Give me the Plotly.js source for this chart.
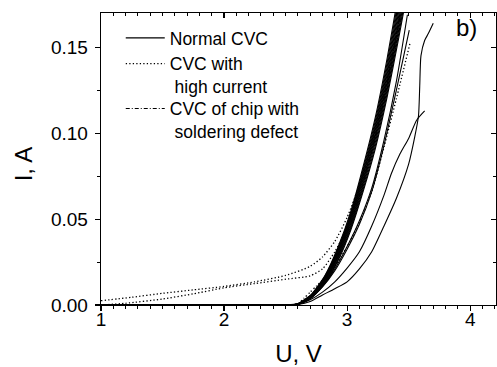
<!DOCTYPE html>
<html>
<head>
<meta charset="utf-8">
<script src="https://cdn.plot.ly/plotly-3.0.1.min.js"></script>
<style>html,body{margin:0;padding:0;background:#fff;}#chart{width:497px;height:367px;}</style>
</head>
<body>
<div id="chart"></div>
<script>
// ---- data ----
const legendNames = ["Normal CVC", "CVC with<br>\u00a0high current", "CVC of chip with<br>\u00a0soldering defect"];

// common voltage grid for the bunch of normal curves (U, V)
const uBunch = [1.0, 2.5, 2.6, 2.71, 2.82, 2.925, 3.03, 3.13, 3.23, 3.325, 3.42, 3.52];
// current (I, A) for each normal curve in the bunch
const iNormal1  = [0, 0, 0.0008, 0.0062, 0.0172, 0.0335, 0.0545, 0.0805, 0.1095, 0.1435, 0.1825, 0.225];
const iNormal2  = [0, 0, 0.0007, 0.0060, 0.0168, 0.0328, 0.0535, 0.0790, 0.1075, 0.1410, 0.1795, 0.221];
const iNormal3  = [0, 0, 0.0007, 0.0058, 0.0163, 0.0320, 0.0524, 0.0775, 0.1055, 0.1385, 0.1765, 0.218];
const iNormal4  = [0, 0, 0.0006, 0.0056, 0.0159, 0.0313, 0.0514, 0.0760, 0.1038, 0.1362, 0.1738, 0.214];
const iNormal5  = [0, 0, 0.0006, 0.0054, 0.0155, 0.0306, 0.0505, 0.0748, 0.1022, 0.1342, 0.1712, 0.211];
const iNormal6  = [0, 0, 0.0005, 0.0052, 0.0150, 0.0298, 0.0494, 0.0734, 0.1004, 0.1320, 0.1685, 0.208];
const iNormal7  = [0, 0, 0.0005, 0.0050, 0.0146, 0.0290, 0.0483, 0.0720, 0.0986, 0.1298, 0.1660, 0.205];
const iNormal8  = [0, 0, 0.0004, 0.0048, 0.0141, 0.0282, 0.0472, 0.0705, 0.0968, 0.1275, 0.1632, 0.202];
const iNormal9  = [0, 0, 0.0004, 0.0046, 0.0136, 0.0274, 0.0460, 0.0690, 0.0950, 0.1252, 0.1606, 0.199];
const iNormal10 = [0, 0, 0.0004, 0.0044, 0.0130, 0.0265, 0.0448, 0.0674, 0.0930, 0.1230, 0.1580, 0.196];
const iNormal11 = [0, 0, 0.0003, 0.0042, 0.0125, 0.0256, 0.0437, 0.0660, 0.0912, 0.1210, 0.1556, 0.194];

// separate normal curves
const uNormalM = [1.0, 2.5, 2.6, 2.7, 2.8, 2.9, 3.0, 3.1, 3.2, 3.3, 3.4, 3.49];
const iNormalM = [0, 0, 0.0004, 0.0040, 0.0110, 0.0210, 0.0340, 0.0490, 0.0680, 0.0960, 0.1300, 0.169];
const uNormalN = [1.0, 2.5, 2.6, 2.7, 2.8, 2.9, 3.0, 3.1, 3.2, 3.3, 3.4, 3.505];
const iNormalN = [0, 0, 0.0004, 0.0038, 0.0105, 0.0200, 0.0325, 0.0470, 0.0660, 0.0930, 0.1250, 0.160];
const uNormalK = [1.0, 2.5, 2.6, 2.7, 2.8, 2.9, 3.0, 3.1, 3.2, 3.3, 3.4, 3.5, 3.55, 3.58, 3.59, 3.6, 3.63, 3.66, 3.7];
const iNormalK = [0, 0, 0.0003, 0.0020, 0.0058, 0.0095, 0.0135, 0.0210, 0.0310, 0.0460, 0.0620, 0.0820, 0.0980, 0.1100, 0.1270, 0.1450, 0.1540, 0.1580, 0.164];
const uNormalL = [1.0, 2.5, 2.6, 2.7, 2.8, 2.9, 3.0, 3.1, 3.2, 3.3, 3.36, 3.43, 3.5, 3.565, 3.63];
const iNormalL = [0, 0, 0.0003, 0.0030, 0.0075, 0.0135, 0.0215, 0.0310, 0.0460, 0.0640, 0.0766, 0.0880, 0.0970, 0.1076, 0.113];

// high current curves (dotted)
const uHigh1 = [1.0, 1.25, 1.5, 1.75, 2.0, 2.25, 2.5, 2.7, 2.8, 2.9, 3.0, 3.1, 3.2, 3.3, 3.4, 3.45];
const iHigh1 = [0.0025, 0.0045, 0.0068, 0.0088, 0.0108, 0.0135, 0.0172, 0.0225, 0.0280, 0.0370, 0.0510, 0.0700, 0.0940, 0.1230, 0.1570, 0.178];
const uHigh2 = [1.0, 1.2, 1.5, 1.75, 2.0, 2.25, 2.5, 2.7, 2.8, 2.9, 3.0, 3.1, 3.2, 3.3, 3.4, 3.45];
const iHigh2 = [0, 0.0010, 0.0035, 0.0065, 0.0100, 0.0125, 0.0150, 0.0170, 0.0210, 0.0310, 0.0450, 0.0670, 0.0910, 0.1190, 0.1520, 0.171];
const uHigh3 = [2.55, 2.6, 2.65, 2.7, 2.75, 2.8, 2.9, 3.0, 3.1, 3.2, 3.3, 3.4, 3.51];
const iHigh3 = [0, 0.0005, 0.0040, 0.0075, 0.0110, 0.0145, 0.0225, 0.0340, 0.0480, 0.0660, 0.0920, 0.1200, 0.152];

// soldering defect curve (dash-dot)
const uDefect = [1.0, 2.5, 2.6, 2.71, 2.82, 2.925, 3.03, 3.13, 3.23, 3.325, 3.42, 3.52];
const iDefect = [0, 0, 0.0005, 0.0052, 0.0148, 0.0290, 0.0478, 0.0710, 0.0975, 0.1285, 0.1645, 0.204];

// axis ticks and labels
const xTicks = [1, 2, 3, 4];
const yTicks = [0.00, 0.05, 0.10, 0.15];
const yTickText = ["0.00", "0.05", "0.10", "0.15"];
const xTitle = "U, V";
const yTitle = "I, A";
const panelLabel = "b)";

// ---- build traces ----
const FONT = "Arial, 'Liberation Sans', Helvetica, sans-serif";
const solid = {color: "#000", width: 1.1, shape: "spline", smoothing: 0.6};
const dotted = {color: "#000", width: 1.3, dash: "1.3px,2.2px", shape: "spline", smoothing: 0.6};
const dashdot = {color: "#000", width: 1.1, dash: "4px,2px,1px,2px", shape: "spline", smoothing: 0.6};

const traces = [];
const normals = [
  [uBunch, iNormal1], [uBunch, iNormal2], [uBunch, iNormal3], [uBunch, iNormal4],
  [uBunch, iNormal5], [uBunch, iNormal6], [uBunch, iNormal7], [uBunch, iNormal8],
  [uBunch, iNormal9], [uBunch, iNormal10], [uBunch, iNormal11],
  [uNormalM, iNormalM], [uNormalN, iNormalN], [uNormalK, iNormalK], [uNormalL, iNormalL]
];
normals.forEach((p, k) => traces.push({
  x: p[0], y: p[1], type: "scatter", mode: "lines", line: solid,
  name: legendNames[0], legendgroup: "n", showlegend: k === 0, hoverinfo: "skip"
}));
[[uHigh1, iHigh1], [uHigh2, iHigh2], [uHigh3, iHigh3]].forEach((p, k) => traces.push({
  x: p[0], y: p[1], type: "scatter", mode: "lines", line: dotted,
  name: legendNames[1], legendgroup: "h", showlegend: k === 0, hoverinfo: "skip"
}));
traces.push({
  x: uDefect, y: iDefect, type: "scatter", mode: "lines", line: dashdot,
  name: legendNames[2], legendgroup: "d", showlegend: true, legend: "legend2", hoverinfo: "skip"
});
// mirror axes carriers (no data)
traces.push({x: [], y: [], xaxis: "x2", yaxis: "y", type: "scatter", mode: "lines", showlegend: false});
traces.push({x: [], y: [], xaxis: "x", yaxis: "y2", type: "scatter", mode: "lines", showlegend: false});

const xr = [1, 4.21];
const yr = [0, 0.17];
const legendStyle = {
  xanchor: "left", yanchor: "top", bgcolor: "rgba(0,0,0,0)", borderwidth: 0,
  font: {family: FONT, size: 17.5, color: "#000"},
  itemwidth: 39, valign: "top", tracegroupgap: 0, traceorder: "normal"
};

const layout = {
  width: 497, height: 367,
  margin: {l: 101, r: 1, t: 13, b: 62, pad: 0},
  paper_bgcolor: "#fff", plot_bgcolor: "#fff",
  font: {family: FONT, color: "#000", size: 18},
  showlegend: true,
  legend: Object.assign({x: 0.05, y: 0.976}, legendStyle),
  legend2: Object.assign({x: 0.05, y: 0.734}, legendStyle),
  xaxis: {
    range: xr, tickvals: xTicks, ticktext: xTicks.map(String),
    ticks: "outside", ticklen: 5, tickwidth: 1.2, tickcolor: "#000", ticklabelstandoff: -8,
    minor: {dtick: 0.1, tick0: 1, ticks: "outside", ticklen: 3, tickwidth: 1, tickcolor: "#000", showgrid: false},
    showline: true, linecolor: "#000", linewidth: 1.3, showgrid: false, zeroline: false,
    tickfont: {family: FONT, size: 19, color: "#000"},
    title: {text: xTitle, font: {family: FONT, size: 24, color: "#000"}, standoff: 27}
  },
  yaxis: {
    range: yr, tickvals: yTicks, ticktext: yTickText,
    ticks: "outside", ticklen: 5, tickwidth: 1.2, tickcolor: "#000", ticklabelstandoff: 3,
    minor: {dtick: 0.025, tick0: 0, ticks: "outside", ticklen: 3, tickwidth: 1, tickcolor: "#000", showgrid: false},
    showline: true, linecolor: "#000", linewidth: 1.3, showgrid: false, zeroline: false,
    tickfont: {family: FONT, size: 19, color: "#000"}
  },
  xaxis2: {
    overlaying: "x", side: "top", anchor: "y", range: xr, tickvals: xTicks,
    ticks: "inside", ticklen: 5, tickwidth: 1.2, tickcolor: "#000", showticklabels: false,
    minor: {dtick: 0.1, tick0: 1, ticks: "inside", ticklen: 3, tickwidth: 1, tickcolor: "#000", showgrid: false},
    showline: true, linecolor: "#000", linewidth: 1.3, showgrid: false, zeroline: false
  },
  yaxis2: {
    overlaying: "y", side: "right", anchor: "x", range: yr, tickvals: yTicks,
    ticks: "inside", ticklen: 5, tickwidth: 1.2, tickcolor: "#000", showticklabels: false,
    minor: {dtick: 0.025, tick0: 0, ticks: "inside", ticklen: 3, tickwidth: 1, tickcolor: "#000", showgrid: false},
    showline: true, linecolor: "#000", linewidth: 1.3, showgrid: false, zeroline: false
  },
  annotations: [{
    text: panelLabel, xref: "paper", yref: "paper", x: 0.925, y: 0.952,
    xanchor: "center", yanchor: "middle", showarrow: false,
    font: {family: FONT, size: 24, color: "#000"}
  }, {
    // y-axis title
    text: yTitle, xref: "paper", yref: "paper", x: -0.194, y: 0.483,
    xanchor: "center", yanchor: "middle", showarrow: false, textangle: -90,
    font: {family: FONT, size: 24, color: "#000"}
  }]
};

Plotly.newPlot("chart", traces, layout, {displayModeBar: false, staticPlot: true});
</script>
</body>
</html>
